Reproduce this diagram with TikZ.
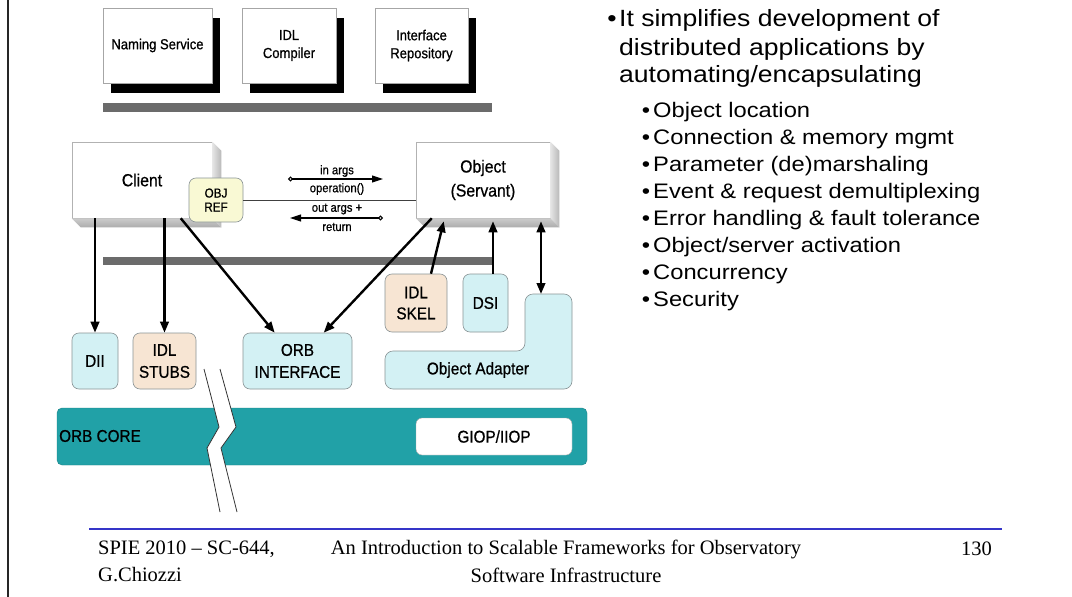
\documentclass[tikz,border=0pt]{standalone}
\usepackage{fontspec}
\setmainfont{Liberation Serif}
\newfontfamily\dfont[FakeStretch=0.9,FakeBold=0.7]{Liberation Sans}
\newfontfamily\rfont[FakeStretch=1.13]{Liberation Sans}
\usetikzlibrary{arrows.meta,shadows,calc}
\definecolor{cyanbox}{HTML}{D3F1F4}
\definecolor{peach}{HTML}{F7E5D3}
\definecolor{refyel}{HTML}{F9F9D4}
\definecolor{teal}{HTML}{21A1A7}
\definecolor{bargray}{HTML}{6B6B6B}
\definecolor{edgegray}{HTML}{8A9496}
\definecolor{footblue}{HTML}{3535C8}
\newcommand\rbul{\makebox[7pt][r]{•\hspace*{2.5pt}}}
\newcommand\sbul{\makebox[8pt][r]{•\hspace*{3pt}}}
\begin{document}
\begin{tikzpicture}[x=1pt,y=-1pt,
  topbox/.style={draw=gray!70, fill=white, line width=0.6pt, minimum height=75pt,
    inner sep=0pt, align=center, font=\dfont\fontsize{14.5}{18}\selectfont,
    drop shadow={shadow xshift=8pt, shadow yshift=-10pt, opacity=1, fill=black}},
  bevelbox/.style={draw=gray!60, fill=white, line width=0.5pt, minimum height=76pt,
    inner sep=0pt, align=center, font=\dfont\fontsize{17.5}{24}\selectfont},
  modbox/.style={draw=edgegray, line width=0.6pt, rounded corners=7pt, inner sep=0pt,
    align=center, font=\dfont\fontsize{17}{22}\selectfont},
  cybox/.style={modbox, fill=cyanbox},
  pebox/.style={modbox, fill=peach},
  small/.style={inner sep=0pt, font=\dfont\fontsize{12.5}{14}\selectfont},
  bigarrow/.style={line width=2.4pt, -{Triangle[length=11pt,width=8.5pt]}},
  bigdouble/.style={line width=2.4pt, {Triangle[length=11pt,width=8.5pt]}-{Triangle[length=11pt,width=8.5pt]}},
  thinarrow/.style={line width=1.1pt, {Circle[open,length=5pt,width=5pt]}-{Triangle[length=11pt,width=7pt]}},
  rmain/.style={anchor=base west, inner sep=0pt, font=\rfont\fontsize{23.5}{27}\selectfont},
  rsub/.style={anchor=base west, inner sep=0pt, font=\rfont\fontsize{21}{25}\selectfont},
  foot/.style={inner sep=0pt, font=\fontsize{20.5}{24}\selectfont}
]
\useasboundingbox (0,0) rectangle (1072,597);
\fill[white] (0,0) rectangle (1072,597);
\draw[line width=2pt, black!85] (8,0) -- (8,597);

% top services
\node[topbox, minimum width=109pt] (naming) at (157.5,45.5) {Naming Service};
\node[topbox, minimum width=94pt] (idlc) at (289,45.5) {IDL\\Compiler};
\node[topbox, minimum width=93pt] (irep) at (421.5,45.5) {Interface\\Repository};
\fill[bargray] (103,103) rectangle (492,112);

% client and object with bevels
\node[bevelbox, minimum width=140pt] (client) at (142,180) {Client};
\node[bevelbox, minimum width=134pt] (object) at (483,180) {Object\\(Servant)};
\foreach \b in {client,object}{
  \shade[left color=gray!20, right color=gray!55]
    (\b.north east) -- ([shift={(9pt,-9pt)}]\b.north east) -- ([shift={(9pt,-9pt)}]\b.south east) -- (\b.south east) -- cycle;
  \shade[top color=gray!40, bottom color=gray!65]
    (\b.south west) -- ([shift={(9pt,-9pt)}]\b.south west) -- ([shift={(9pt,-9pt)}]\b.south east) -- (\b.south east) -- cycle;
}
\node[modbox, fill=refyel, minimum width=54pt, minimum height=44pt, font=\dfont\fontsize{13}{14}\selectfont] (objref) at (216,200) {OBJ\\REF};
\draw[line width=0.6pt, black!75] (objref.east) -- (objref.east -| object.west);

% request / reply
\coordinate (ia) at (288,179);
\coordinate (ib) at (383,179);
\coordinate (oa) at (383,218);
\coordinate (ob) at (290,218);
\draw[thinarrow] (ia) -- (ib);
\draw[thinarrow] (oa) -- (ob);
\node[small] (inargs) at (337,171) {in args};
\node[small] (oper) at (337,189) {operation()};
\node[small] (outargs) at (337,209) {out args +};
\node[small] (ret) at (337,227) {return};

\fill[bargray] (103,257) rectangle (494,265);

% ORB modules
\node[cybox, minimum width=46pt, minimum height=56pt] (dii) at (95,361) {DII};
\node[pebox, minimum width=63pt, minimum height=56pt] (stubs) at (164.5,361) {IDL\\STUBS};
\node[cybox, minimum width=109pt, minimum height=56pt] (orbi) at (297.5,361) {ORB\\INTERFACE};
\node[pebox, minimum width=62pt, minimum height=58pt, font=\dfont\fontsize{17}{21}\selectfont] (skel) at (416,303) {IDL\\SKEL};
\node[cybox, minimum width=45pt, minimum height=58pt] (dsi) at (485.5,303) {DSI};
\draw[draw=edgegray, fill=cyanbox, line width=0.6pt, rounded corners=8pt]
  (385,351) -- (525,351) -- (525,294) -- (572,294) -- (572,389) -- (385,389) -- cycle;
\node[inner sep=0pt, font=\dfont\fontsize{17}{20}\selectfont] (oadapt) at (478,370) {Object Adapter};
\coordinate (oatop) at (541,294);

% ORB core
\node[draw=teal!80!black, fill=teal, rounded corners=5pt, minimum width=530pt, minimum height=57pt, inner sep=0pt] (core) at (322,436.5) {};
\node[anchor=west, inner sep=0pt, font=\dfont\fontsize{17}{20}\selectfont] (corelbl) at (59,436) {ORB CORE};
\node[draw=gray!70, fill=white, rounded corners=6pt, minimum width=156pt, minimum height=37pt, inner sep=0pt, font=\dfont\fontsize{17}{20}\selectfont] (giop) at (494,436.5) {GIOP/IIOP};

% break
\fill[white] (204,369) -- (219,427) -- (207,448) -- (220,512) -- (237,512) -- (221,448) -- (236,427) -- (220,369) -- cycle;
\draw[line width=0.8pt, black!80] (204,369) -- (219,427) -- (207,448) -- (220,512);
\draw[line width=0.8pt, black!80] (220,369) -- (236,427) -- (221,448) -- (237,512);

% arrows
\draw[bigarrow] (dii.north |- client.south) -- (dii.north);
\draw[bigarrow] (stubs.north |- client.south) -- (stubs.north);
\draw[bigarrow] ([xshift=109pt]client.south west) -- ([xshift=32pt]orbi.north west);
\draw[bigarrow] ([xshift=16pt]object.south west) -- ([xshift=81pt]orbi.north west);
\draw[bigarrow] ([xshift=15pt]skel.north) -- ([xshift=28pt,yshift=-3pt]object.south west);
\draw[bigarrow] ([xshift=7.5pt]dsi.north) -- ([xshift=7.5pt,yshift=-3pt]dsi.north |- object.south);
\draw[bigdouble] (oatop) -- ([yshift=-3pt]oatop |- object.south);

% right text
\node[rmain] (m1) at (612,27) {\rbul It simplifies development of};
\node[rmain] (m2) at (619,55) {distributed applications by};
\node[rmain] (m3) at (619,82) {automating/encapsulating};
\node[rsub] (s1) at (645,117) {\sbul Object location};
\node[rsub] (s2) at (645,144) {\sbul Connection \& memory mgmt};
\node[rsub] (s3) at (645,171) {\sbul Parameter (de)marshaling};
\node[rsub] (s4) at (645,198) {\sbul Event \& request demultiplexing};
\node[rsub] (s5) at (645,225) {\sbul Error handling \& fault tolerance};
\node[rsub] (s6) at (645,252) {\sbul Object/server activation};
\node[rsub] (s7) at (645,279) {\sbul Concurrency};
\node[rsub] (s8) at (645,306) {\sbul Security};

% footer
\draw[line width=1.5pt, footblue] (89,529) -- (1002,529);
\node[foot, anchor=west] (f1) at (98,549) {SPIE 2010 -- SC-644,};
\node[foot, anchor=west] (f2) at (98,575) {G.Chiozzi};
\node[foot] (f3) at (566,549) {An Introduction to Scalable Frameworks for Observatory};
\node[foot] (f4) at (566,575) {Software Infrastructure};
\node[foot, anchor=east] (f5) at (992,549) {130};
\end{tikzpicture}
\end{document}
